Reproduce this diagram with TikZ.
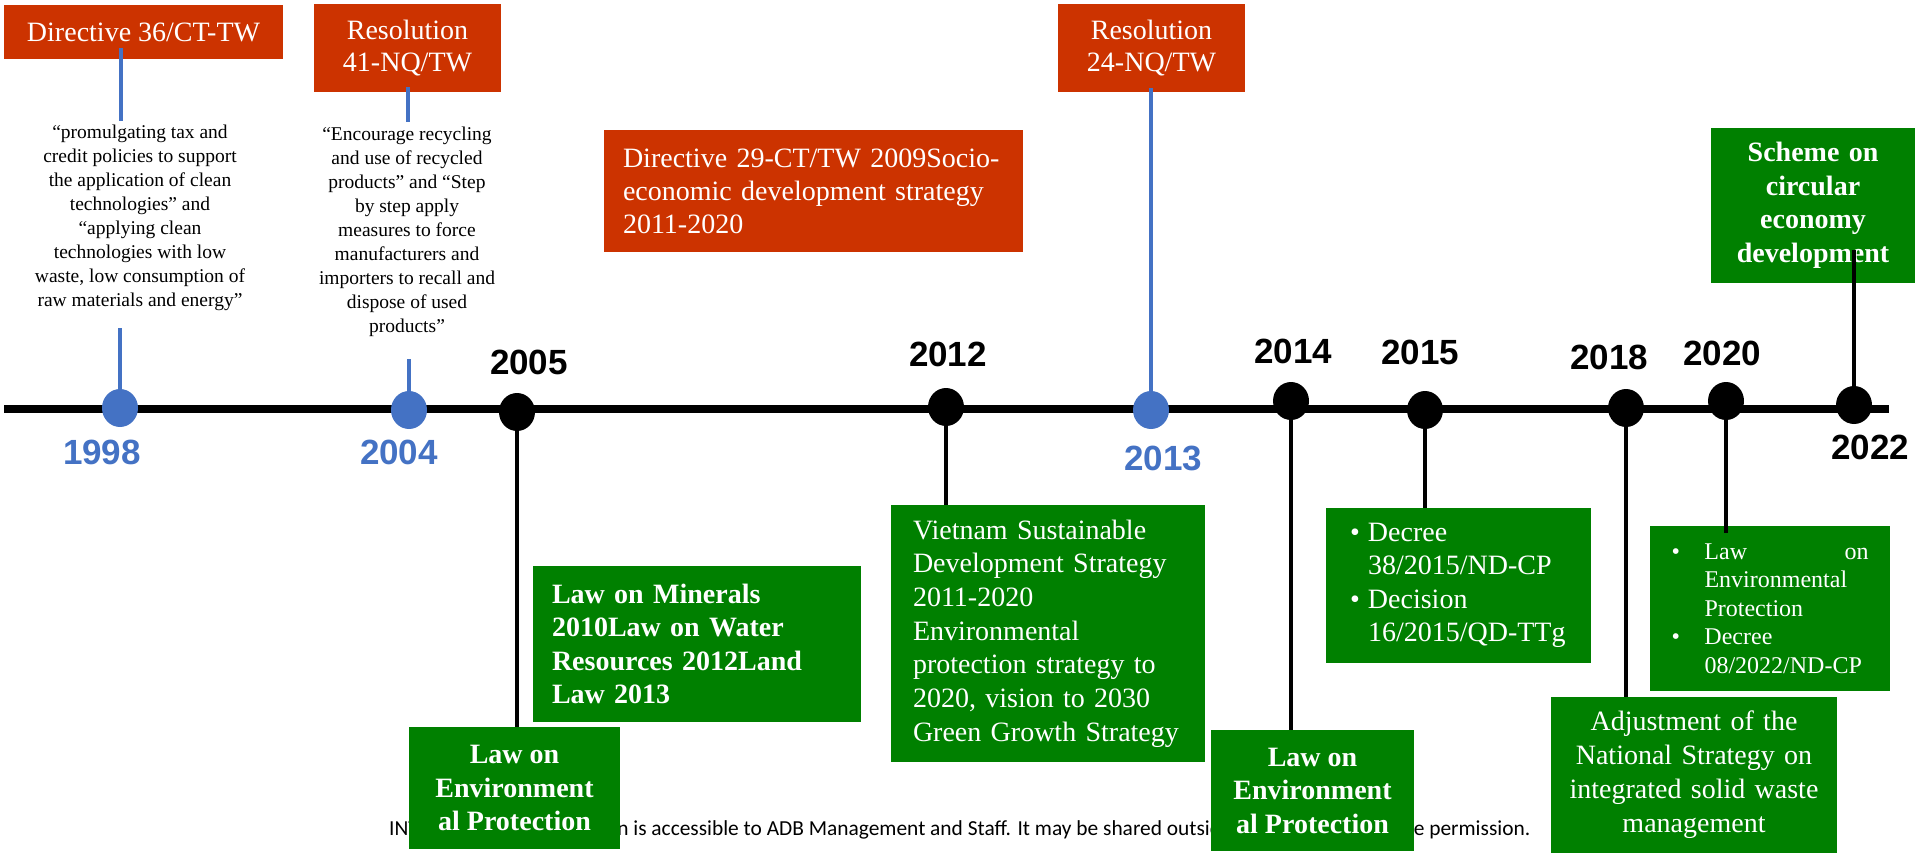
\documentclass[tikz,border=0pt]{standalone}
\usepackage{fontspec}
\setmainfont{Liberation Serif}
\setsansfont{Liberation Sans}
\newfontfamily\footfont{Carlito}
\usetikzlibrary{shapes.geometric}
\definecolor{adbred}{RGB}{204,51,0}
\definecolor{adbgreen}{RGB}{0,128,0}
\definecolor{adbblue}{RGB}{68,114,196}
\begin{document}
\begin{tikzpicture}[x=1pt,y=-1pt,
  redbox/.style={fill=adbred,text=white,inner sep=0pt,font=\fontsize{28}{32}\selectfont},
  greenbox/.style={fill=adbgreen,text=white,inner sep=0pt,font=\fontsize{28}{33.5}\selectfont},
  quotetext/.style={inner sep=0pt,align=center,font=\fontsize{19.5}{24}\selectfont},
  bdot/.style={ellipse,fill=black,inner sep=0pt,minimum width=36,minimum height=38},
  udot/.style={ellipse,fill=adbblue,inner sep=0pt,minimum width=36,minimum height=38},
  yr/.style={inner sep=0pt,font=\sffamily\bfseries\fontsize{35}{35}\selectfont},
  yrblue/.style={yr,text=adbblue},
  bconn/.style={draw=black,line width=4.5pt},
  uconn/.style={draw=adbblue,line width=4.5pt},
  axis/.style={draw=black,line width=8pt}
]
\useasboundingbox (0,0) rectangle (1915,856);
\fill[white] (0,0) rectangle (1915,856);

% footer (behind boxes)
\node[anchor=west,inner sep=0pt,font=\footfont\fontsize{21.4}{21.4}\selectfont] (foot) at (389,830)
  {INTERNAL. This information is accessible to ADB Management and Staff. It may be shared outside ADB with appropriate permission.};

% red boxes
\node[redbox,minimum width=279,minimum height=54,align=center] (d36) at (143.5,32) {Directive 36/CT-TW};
\node[redbox,minimum width=187,minimum height=88,align=center] (r41) at (407.5,48) {Resolution\\41-NQ/TW};
\node[redbox,minimum width=419,minimum height=122,text width=381,align=left,font=\fontsize{28}{33}\selectfont] (d29) at (813.5,191)
  {Directive 29-CT/TW 2009Socio-\\economic development strategy\\2011-2020};
\node[redbox,minimum width=187,minimum height=88,align=center] (r24) at (1151.5,48) {Resolution\\24-NQ/TW};

% quotes
\node[quotetext] (q1) at (140,218) {“promulgating tax and\\credit policies to support\\the application of clean\\technologies” and\\“applying clean\\technologies with low\\waste, low consumption of\\raw materials and energy”};
\node[quotetext] (q2) at (407,232) {“Encourage recycling\\and use of recycled\\products” and “Step\\by step apply\\measures to force\\manufacturers and\\importers to recall and\\dispose of used\\products”};

% green boxes
\node[greenbox,minimum width=328,minimum height=156,text width=290,align=left,font=\bfseries\fontsize{28}{33.3}\selectfont] (lm) at (697,644)
  {Law on Minerals\\2010Law on Water\\Resources 2012Land\\Law 2013};
\node[greenbox,minimum width=211,minimum height=122,align=center,font=\bfseries\fontsize{28}{33.5}\selectfont] (le1) at (514.5,788)
  {Law on\\Environment\\al Protection};
\node[greenbox,minimum width=314,minimum height=257,text width=270,align=left,font=\fontsize{28}{33.7}\selectfont] (vn) at (1048,633.5)
  {Vietnam Sustainable\\Development Strategy\\2011-2020\\Environmental\\protection strategy to\\2020, vision to 2030\\Green Growth Strategy};
\node[greenbox,minimum width=203,minimum height=121,align=center,font=\bfseries\fontsize{28}{33.5}\selectfont] (le2) at (1312.5,790.5)
  {Law on\\Environment\\al Protection};
\node[greenbox,minimum width=265,minimum height=155,text width=217,align=left,font=\fontsize{28}{33.3}\selectfont] (dc) at (1458.5,585.5)
  {\makebox[18pt][l]{\textbullet}Decree\\\hspace*{18pt}38/2015/ND-CP\\\makebox[18pt][l]{\textbullet}Decision\\\hspace*{18pt}16/2015/QD-TTg};
\node[greenbox,minimum width=286,minimum height=156,text width=280,align=center,font=\fontsize{28}{34}\selectfont] (adj) at (1694,775)
  {Adjustment of the\\National Strategy on\\integrated solid waste\\management};
\node[greenbox,minimum width=240,minimum height=165,text width=197,align=left,font=\fontsize{24}{28.5}\selectfont] (ld) at (1770,608.5)
  {\makebox[33pt][l]{\textbullet}\makebox[164pt][s]{Law\hfill on}\\\hspace*{33pt}Environmental\\\hspace*{33pt}Protection\\\makebox[33pt][l]{\textbullet}Decree\\\hspace*{33pt}08/2022/ND-CP};
\node[greenbox,minimum width=204,minimum height=155,text width=200,align=center,font=\bfseries\fontsize{28}{33.5}\selectfont] (sch) at (1813,205.5)
  {Scheme on\\circular\\economy\\development};

% timeline
\coordinate (tl0) at (4,409);
\coordinate (tl1) at (1889,409);
\draw[axis] (tl0) -- (tl1);

% dots
\node[udot] (y1998) at (120,408) {};
\node[udot] (y2004) at (409,410) {};
\node[bdot] (y2005) at (517,412) {};
\node[bdot] (y2012) at (946,407) {};
\node[udot] (y2013) at (1151,410) {};
\node[bdot] (y2014) at (1291,401) {};
\node[bdot] (y2015) at (1425,410) {};
\node[bdot] (y2018) at (1626,408) {};
\node[bdot] (y2020) at (1726,401) {};
\node[bdot] (y2022) at (1854,405) {};

% blue connectors
\coordinate (c36a) at (121,48);
\coordinate (c36b) at (121,121);
\draw[uconn] (c36a) -- (c36b);
\draw[uconn] (y1998.center) -- ++(0,-80);
\coordinate (c41a) at (408,87);
\coordinate (c41b) at (408,122);
\draw[uconn] (c41a) -- (c41b);
\draw[uconn] (y2004.center) -- ++(0,-51);
\draw[uconn] (y2013.center) -- (y2013.center |- r24.south) -- ++(0,-4);

% black connectors
\draw[bconn] (y2005.center) -- (y2005.center |- le1.north);
\draw[bconn] (y2012.center) -- (y2012.center |- vn.north);
\draw[bconn] (y2014.center) -- (y2014.center |- le2.north);
\draw[bconn] (y2015.center) -- (y2015.center |- dc.north);
\draw[bconn] (y2018.center) -- (y2018.center |- adj.north);
\draw[bconn] (y2020.center) -- ([yshift=-7pt]y2020.center |- ld.north);
\draw[bconn] (y2022.center) -- ([yshift=33pt]y2022.center |- sch.south);

% year labels
\node[yrblue] (l1998) at (102,452) {1998};
\node[yrblue] (l2004) at (399,452) {2004};
\node[yr] (l2005) at (529,362) {2005};
\node[yr] (l2012) at (948,354) {2012};
\node[yrblue] (l2013) at (1163,458) {2013};
\node[yr] (l2014) at (1293,351) {2014};
\node[yr] (l2015) at (1420,352) {2015};
\node[yr] (l2018) at (1609,357) {2018};
\node[yr] (l2020) at (1722,353) {2020};
\node[yr] (l2022) at (1870,447) {2022};
\end{tikzpicture}
\end{document}
